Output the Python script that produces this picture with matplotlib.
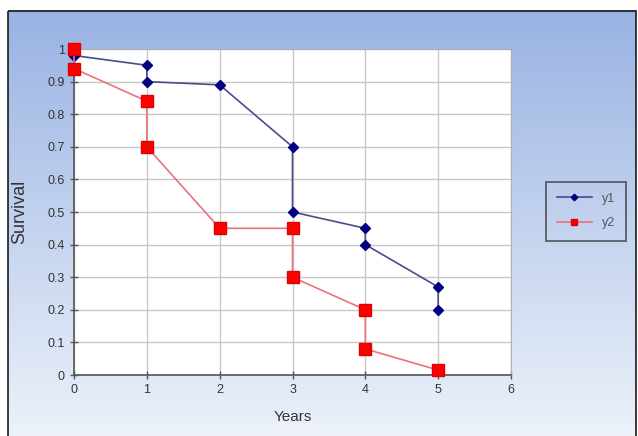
import numpy as np
import matplotlib
matplotlib.use("Agg")
import matplotlib.pyplot as plt
from matplotlib.patches import Rectangle

plt.rcParams['font.family'] = ['Liberation Sans', 'DejaVu Sans']

# survival curves (step points, drops drawn as vertical segments)
years_y1 = [0, 1, 1, 2, 3, 3, 4, 4, 5, 5]
surv_y1 = [0.98, 0.95, 0.90, 0.89, 0.70, 0.50, 0.45, 0.40, 0.27, 0.20]
years_y2 = [0, 0, 1, 1, 2, 3, 3, 4, 4, 5]
surv_y2 = [1.0, 0.94, 0.84, 0.70, 0.45, 0.45, 0.30, 0.20, 0.08, 0.015]

x_ticks = [0, 1, 2, 3, 4, 5, 6]
y_ticks = [0, 0.1, 0.2, 0.3, 0.4, 0.5, 0.6, 0.7, 0.8, 0.9, 1]
y_ticklabels = ["0", "0.1", "0.2", "0.3", "0.4", "0.5", "0.6", "0.7", "0.8", "0.9", "1"]

W, H = 638, 436
fig = plt.figure(figsize=(W / 100, H / 100), dpi=100)
fig.patch.set_facecolor("white")

# gradient chart background
bg = fig.add_axes([0, 0, 1, 1], zorder=-5)
top = np.array([0.60, 0.70, 0.89])
bot = np.array([0.93, 0.95, 0.98])
t = np.linspace(0, 1, 256)[:, None]
grad = top[None, :] * (1 - t) + bot[None, :] * t
bg.imshow(grad[:, None, :], aspect="auto", extent=[8, 636, 440, 11])
bg.set_xlim(0, W)
bg.set_ylim(H, 0)
bg.add_patch(Rectangle((8, 11), 628, 430, fill=False, edgecolor="#1a1a1a", lw=1.2))
bg.axis("off")

ax = fig.add_axes([74 / W, 1 - 375 / H, (511 - 74) / W, (375 - 49) / H])
ax.set_facecolor("white")

ax.plot(years_y1, surv_y1, color="#4b4b8c", lw=1.2, marker="D", ms=5.5,
        mfc="#000080", mec="#000080", label="y1", zorder=3, clip_on=False)
ax.plot(years_y2, surv_y2, color="#e8737d", lw=1.2, marker="s", ms=8,
        mfc="#ff0000", mec="#e00000", label="y2", zorder=3, clip_on=False)

ax.set_xlim(0, 6)
ax.set_ylim(0, 1)
ax.set_xticks(x_ticks)
ax.set_yticks(y_ticks)
ax.set_yticklabels(y_ticklabels)
ax.grid(True, color="#c8c8c8", lw=1)
ax.set_axisbelow(True)
ax.tick_params(direction="inout", length=6, width=1, colors="#555555",
               labelcolor="#333333", labelsize=9)

for side in ["top", "right"]:
    ax.spines[side].set_color("#b0b0b0")
for side in ["left", "bottom"]:
    ax.spines[side].set_color("#555555")
    ax.spines[side].set_linewidth(1.2)

ax.set_xlabel("Years", fontsize=11, color="#333333", labelpad=10)
ax.set_ylabel("Survival", fontsize=13, color="#333333", labelpad=14)

leg = fig.legend(loc="center", bbox_to_anchor=(586 / W, 1 - 211 / H), fontsize=9,
                 frameon=True, fancybox=False, handlelength=2.8,
                 labelspacing=1.0, borderpad=0.9, markerscale=0.6)
leg.get_frame().set_edgecolor("#333333")
leg.get_frame().set_linewidth(1.2)
leg.get_frame().set_facecolor("none")
for txt in leg.get_texts():
    txt.set_color("#555555")

fig.savefig("out.png", dpi=100)
